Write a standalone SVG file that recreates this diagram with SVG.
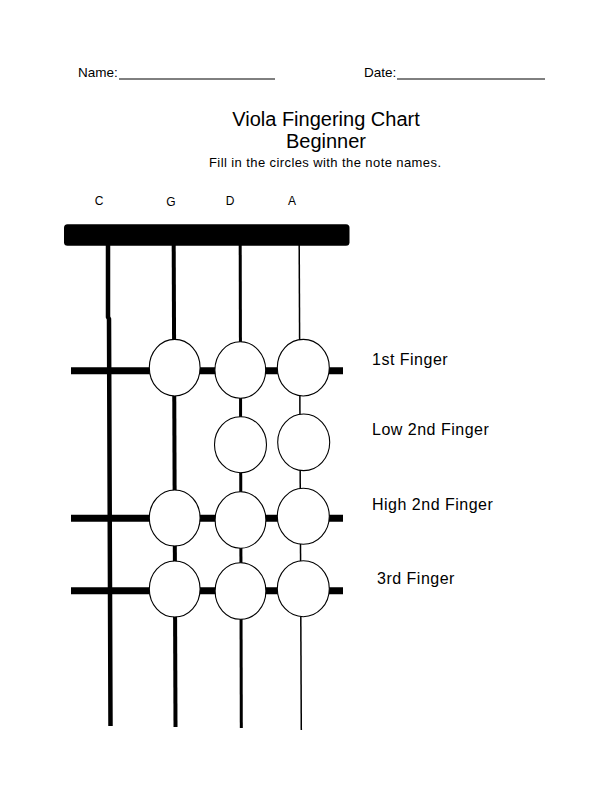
<svg xmlns="http://www.w3.org/2000/svg" width="612" height="792" viewBox="0 0 612 792">
<style>
text{font-family:"Liberation Sans",Arial,sans-serif;fill:#000}
.hdr{font-size:13.5px}
.ttl{font-size:20px;text-anchor:middle}
.sub{font-size:13px;text-anchor:middle}
.str{font-size:12px;text-anchor:middle}
.fl{font-size:16px;letter-spacing:0.5px}
.ln{stroke:#000;fill:none}
.c{fill:#fff;stroke:#000;stroke-width:1.1}
</style>
<rect width="612" height="792" fill="#fff"/>
<g id="header">
<text class="hdr" x="78" y="77">Name:</text>
<line class="ln" x1="119" y1="79" x2="275" y2="79" stroke-width="1"/>
<text class="hdr" x="364" y="77">Date:</text>
<line class="ln" x1="397" y1="79" x2="545" y2="79" stroke-width="1"/>
</g>
<g id="title">
<text class="ttl" x="326" y="126">Viola Fingering Chart</text>
<text class="ttl" x="326" y="148">Beginner</text>
<text class="sub" x="325" y="167" textLength="232" lengthAdjust="spacing">Fill in the circles with the note names.</text>
</g>
<g id="string-labels">
<text class="str" x="99" y="205">C</text>
<text class="str" x="171" y="206">G</text>
<text class="str" x="230" y="205">D</text>
<text class="str" x="292" y="205">A</text>
</g>
<g id="connectors">
<polyline class="ln" points="108,245 108,317 109,319 110.5,726" stroke-width="4.5"/>
<line class="ln" x1="173.7" y1="245" x2="175.5" y2="727" stroke-width="4"/>
<line class="ln" x1="240.2" y1="245" x2="241.3" y2="728" stroke-width="3"/>
<line class="ln" x1="299.2" y1="245" x2="301.3" y2="730" stroke-width="1.5"/>
<line class="ln" x1="71" y1="370.7" x2="343" y2="370.7" stroke-width="7"/>
<line class="ln" x1="71" y1="518.3" x2="343" y2="518.3" stroke-width="7"/>
<line class="ln" x1="71" y1="590.7" x2="343" y2="590.7" stroke-width="7"/>
</g>
<g id="nut"><rect x="64" y="224.3" width="285.5" height="21.5" rx="3.5" fill="#000"/></g>
<g id="finger1">
<ellipse class="c" cx="174.7" cy="367.7" rx="25.4" ry="28.3"/>
<ellipse class="c" cx="240.3" cy="370" rx="25.4" ry="28.2"/>
<ellipse class="c" cx="303.3" cy="367.7" rx="26" ry="28.3"/>
<text class="fl" x="372" y="365">1st Finger</text>
</g>
<g id="finger-low2">
<ellipse class="c" cx="240.5" cy="444.7" rx="26" ry="28"/>
<ellipse class="c" cx="303.7" cy="442.3" rx="26" ry="28.3"/>
<text class="fl" x="372" y="435">Low 2nd Finger</text>
</g>
<g id="finger-high2">
<ellipse class="c" cx="174.7" cy="518" rx="25.4" ry="28"/>
<ellipse class="c" cx="240.5" cy="520" rx="25.4" ry="28.2"/>
<ellipse class="c" cx="303.3" cy="516.3" rx="26" ry="28"/>
<text class="fl" x="372" y="510">High 2nd Finger</text>
</g>
<g id="finger3">
<ellipse class="c" cx="174.7" cy="589" rx="25.4" ry="28"/>
<ellipse class="c" cx="240.5" cy="591" rx="25.4" ry="28.3"/>
<ellipse class="c" cx="303.3" cy="588.7" rx="26" ry="28"/>
<text class="fl" x="377" y="584">3rd Finger</text>
</g>
</svg>
